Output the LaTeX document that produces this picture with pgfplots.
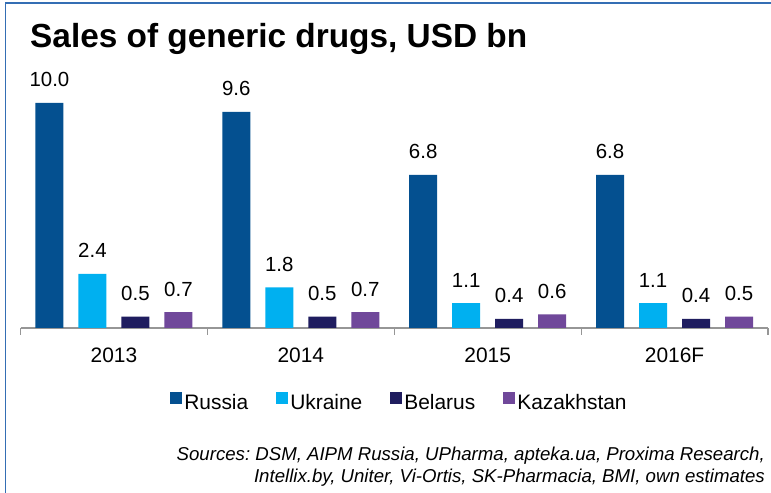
\documentclass[border=0pt]{standalone}
\usepackage{pgfplots}
\pgfplotsset{compat=1.18}
\usepackage{fontspec}
\setmainfont{Liberation Sans}
\frenchspacing

\definecolor{russia}{RGB}{4,80,144}
\definecolor{ukraine}{RGB}{0,176,240}
\definecolor{belarus}{RGB}{31,29,95}
\definecolor{kazakh}{RGB}{112,72,154}
\definecolor{frameblue}{RGB}{52,110,180}
\definecolor{axisgray}{RGB}{150,150,150}

\begin{document}
\begin{tikzpicture}
\useasboundingbox[fill=white] (0bp,0bp) rectangle (771bp,493bp);
\draw[frameblue, line width=1.5bp] (5.5bp,0bp) -- (5.5bp,490bp) -- (771bp,490bp);

\node[anchor=base west, inner sep=0pt, font=\fontsize{33.5}{38}\selectfont\bfseries] at (30bp,445.3bp) {Sales of generic drugs, USD bn};

\begin{axis}[
    at={(20.5bp,165bp)}, anchor=south west,
    scale only axis,
    width=747.5bp, height=225bp,
    xmin=-0.5, xmax=3.5,
    ymin=0, ymax=10,
    clip=false,
    axis x line*=bottom,
    axis y line=none,
    x axis line style={axisgray, line width=1.2bp, -},
    xtick={-0.5,0.5,1.5,2.5,3.5},
    xticklabels={},
    tick align=outside,
    major tick length=7bp,
    tick style={axisgray, line width=1.2bp},
    ybar=15bp,
    bar width=28bp,
    nodes near coords={\pgfmathprintnumber[fixed,fixed zerofill,precision=1,assume math mode=true]{\pgfplotspointmeta}},
    nodes near coords style={anchor=base, inner sep=0pt, yshift=16bp, font=\fontsize{20.5}{24}\selectfont, black},
    legend columns=4,
    legend style={at={(0.507,-0.331)}, anchor=center, draw=none, fill=none,
        font=\fontsize{21}{24}\selectfont, inner sep=0pt,
        nodes={inner sep=2bp},
        /tikz/every even column/.append style={column sep=26bp}},
    legend image code/.code={\fill[#1] (0bp,-1bp) rectangle (12bp,11bp);},
]
\addplot[fill=russia, draw=none] coordinates {(0,10.0) (1,9.6) (2,6.8) (3,6.8)};
\addplot[fill=ukraine, draw=none] coordinates {(0,2.4) (1,1.8) (2,1.1) (3,1.1)};
\addplot[fill=belarus, draw=none] coordinates {(0,0.5) (1,0.5) (2,0.4) (3,0.4)};
\addplot[fill=kazakh, draw=none] coordinates {(0,0.7) (1,0.7) (2,0.6) (3,0.5)};
\legend{Russia, Ukraine, Belarus, Kazakhstan}

\node[anchor=base, yshift=-35bp, font=\fontsize{21}{24}\selectfont] at (axis cs:0,0) {2013};
\node[anchor=base, yshift=-35bp, font=\fontsize{21}{24}\selectfont] at (axis cs:1,0) {2014};
\node[anchor=base, yshift=-35bp, font=\fontsize{21}{24}\selectfont] at (axis cs:2,0) {2015};
\node[anchor=base, yshift=-35bp, font=\fontsize{21}{24}\selectfont] at (axis cs:3,0) {2016F};
\end{axis}

\node[anchor=base east, inner sep=0pt, font=\fontsize{18.7}{22}\selectfont\itshape] at (765bp,33bp) {Sources: DSM, AIPM Russia, UPharma, apteka.ua, Proxima Research,};
\node[anchor=base east, inner sep=0pt, font=\fontsize{18.7}{22}\selectfont\itshape] at (765bp,11bp) {Intellix.by, Uniter, Vi-Ortis, SK-Pharmacia, BMI, own estimates};
\end{tikzpicture}
\end{document}
